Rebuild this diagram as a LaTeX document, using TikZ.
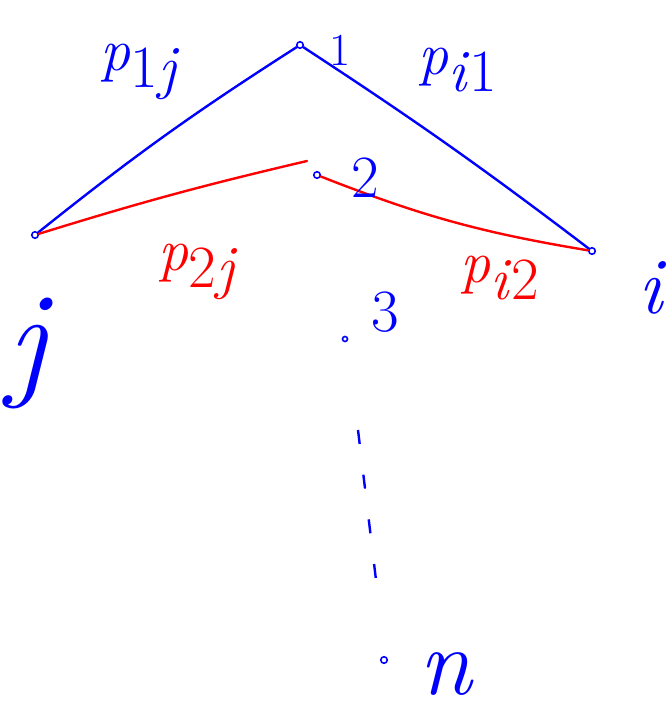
\documentclass[tikz,border=0pt]{standalone}
\usepackage{fontspec}
\newcommand{\lbl}[2]{\textit{#1}\raisebox{-0.28em}{#2}}
\begin{document}
\begin{tikzpicture}[x=1pt,y=-1pt,
  vtx/.style={circle,draw=blue,fill=white,line width=1.6pt,inner sep=0pt,minimum size=6.5pt},
  blueedge/.style={draw=blue,line width=2.4pt,line cap=round},
  rededge/.style={draw=red,line width=2.4pt,line cap=round},
  bluelbl/.style={text=blue,inner sep=0pt,font=\fontsize{60}{60}\selectfont},
  redlbl/.style={text=red,inner sep=0pt,font=\fontsize{60}{60}\selectfont},
  numlbl/.style={text=blue,inner sep=0pt,font=\fontsize{60}{60}\selectfont}]
\useasboundingbox (0,0) rectangle (670,717);
% vertices
\node[vtx] (j) at (35,235) {};
\node[vtx] (v1) at (300,45) {};
\node[vtx] (v2) at (317,175) {};
\node[vtx] (i) at (592,251) {};
\node[vtx,minimum size=5pt] (v3) at (345,339) {};
\node[vtx] (n) at (384,660) {};
\coordinate (r2) at (307,161);
\coordinate (d1) at (358,430);
\coordinate (d2) at (376,580);
% edges
\draw[blueedge] (j) to[bend left=3] (v1);
\draw[blueedge] (v1) to[bend left=2] (i);
\draw[rededge] (j) to[bend left=2] (r2);
\draw[rededge] (v2) to[bend right=6] (i);
\draw[draw=blue,line width=2.4pt,dash pattern=on 14pt off 31pt] (d1) -- (d2);
% labels
\node[bluelbl] (l1) at (140,72) {\lbl{p}{1\textit{j}}};
\node[bluelbl] (l2) at (458,70) {\lbl{p}{\textit{i}1}};
\node[redlbl] (l3) at (198,272) {\lbl{p}{2\textit{j}}};
\node[redlbl] (l4) at (500,278) {\lbl{p}{\textit{i}2}};
\node[numlbl,font=\fontsize{46}{46}\selectfont] (t1) at (340,50) {1};
\node[numlbl] (t2) at (365,178) {2};
\node[numlbl] (t3) at (385,312) {3};
\node[numlbl,font=\fontsize{80}{80}\selectfont] (ti) at (652,288) {\textit{i}};
\node[numlbl,font=\fontsize{130}{130}\selectfont] (tj) at (30,354) {\textit{j}};
\node[numlbl,font=\fontsize{95}{95}\selectfont] (tn) at (447,674) {\textit{n}};
\end{tikzpicture}
\end{document}
